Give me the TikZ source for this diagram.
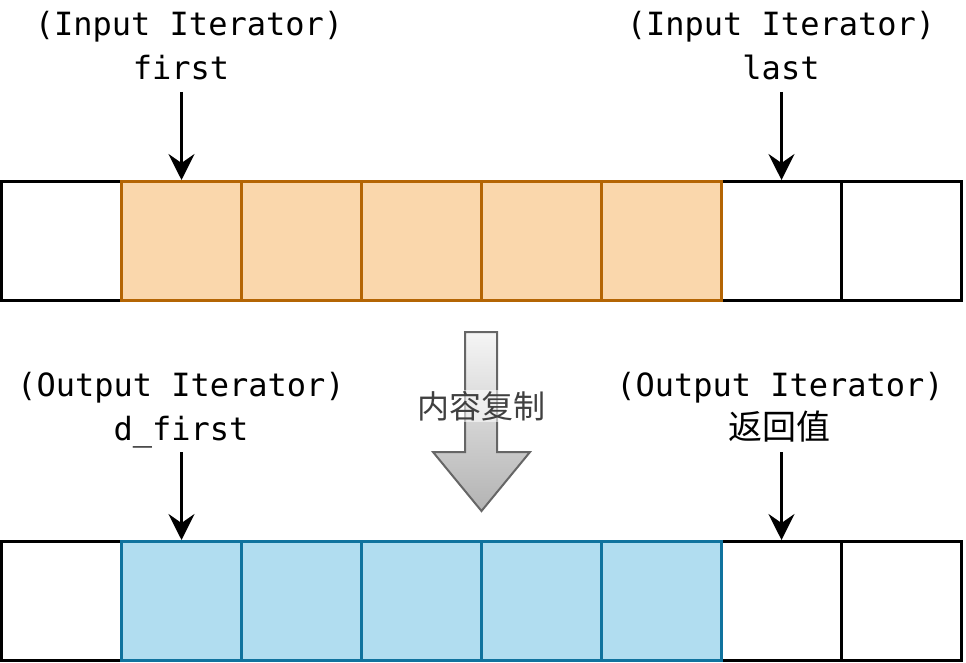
\documentclass[tikz,border=0pt]{standalone}
\usepackage{fontspec}
\newfontfamily\mono{DejaVu Sans Mono}
\newfontfamily\cjk{Noto Sans CJK SC}
\usetikzlibrary{arrows.meta}
\definecolor{srcline}{HTML}{B46504}
\definecolor{srcfill}{HTML}{FAD7AC}
\definecolor{dstline}{HTML}{10739E}
\definecolor{dstfill}{HTML}{B1DDF0}
\definecolor{arrline}{HTML}{666666}
\definecolor{arrtop}{HTML}{F5F5F5}
\definecolor{arrbot}{HTML}{B3B3B3}
\definecolor{cptxt}{HTML}{404040}
\begin{document}
\begin{tikzpicture}[x=1pt,y=-1pt,
  cell/.style={draw=black, line width=3pt, minimum width=120pt, minimum height=119pt, inner sep=0pt, fill=white},
  srccell/.style={cell, draw=srcline, fill=srcfill},
  dstcell/.style={cell, draw=dstline, fill=dstfill},
  lbl/.style={font=\mono\fontsize{32}{38}\selectfont, inner sep=0pt, anchor=base},
  cjklbl/.style={font=\cjk\fontsize{34}{40}\selectfont, inner sep=0pt, anchor=base},
  ptr/.style={line width=3pt, -{Stealth[length=26pt,width=26pt,inset=9pt]}},
  bigarrow/.style={draw=arrline, line width=2pt, top color=arrtop, bottom color=arrbot, line join=miter},
  cplbl/.style={font=\cjk\fontsize{32}{38}\selectfont, text=cptxt, fill=white, fill opacity=0.55, text opacity=1, inner sep=1pt}
]
\useasboundingbox (0,0) rectangle (966,663);

% top row
\node[cell] (t0) at (61.5,241) {};
\node[cell] (t6) at (781.5,241) {};
\node[cell] (t7) at (901.5,241) {};
\foreach \i in {1,...,5} {
  \node[srccell] (t\i) at ({61.5+120*\i},241) {};
}
% bottom row
\node[cell] (b0) at (61.5,601) {};
\node[cell] (b6) at (781.5,601) {};
\node[cell] (b7) at (901.5,601) {};
\foreach \i in {1,...,5} {
  \node[dstcell] (b\i) at ({61.5+120*\i},601) {};
}

% labels
\node[lbl] (l1a) at (189,36) {(Input Iterator)};
\node[lbl] (l1b) at (181,80) {first};
\node[lbl] (l2a) at (781,36) {(Input Iterator)};
\node[lbl] (l2b) at (781,80) {last};
\node[lbl] (l3a) at (181,396) {(Output Iterator)};
\node[lbl] (l3b) at (181,440) {d\_first};
\node[lbl] (l4a) at (780,396) {(Output Iterator)};
\node[cjklbl] (l4b) at (779,439) {返回值};

% pointers
\coordinate (p1) at (181.5,92);
\coordinate (p2) at (781.5,92);
\coordinate (p3) at (181.5,452);
\coordinate (p4) at (781.5,452);
\draw[ptr] (p1) -- (t1.north);
\draw[ptr] (p2) -- (t6.north);
\draw[ptr] (p3) -- (b1.north);
\draw[ptr] (p4) -- (b6.north);

% big copy arrow
\path[bigarrow] (465,332) -- (497,332) -- (497,452) -- (530,452) -- (481.5,511) -- (433,452) -- (465,452) -- cycle;
\node[cplbl] (cp) at (481.5,406) {内容复制};
\end{tikzpicture}
\end{document}
